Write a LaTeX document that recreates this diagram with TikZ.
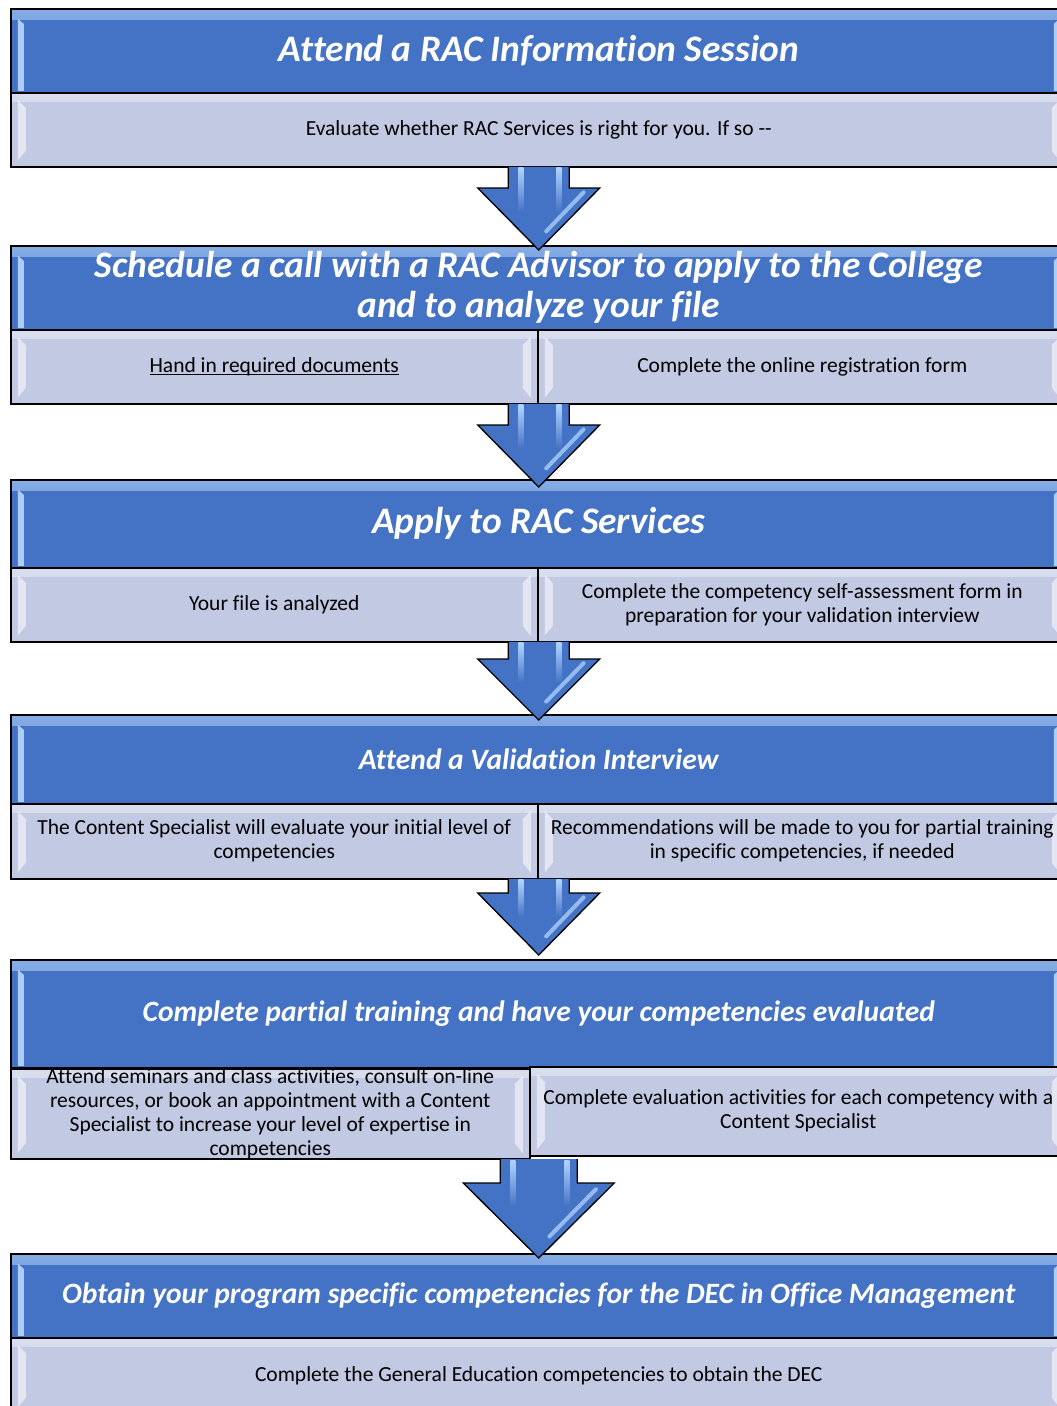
\documentclass[tikz,border=0pt]{standalone}
\usepackage{fontspec}
\setmainfont{Carlito}[Ligatures={TeX,NoCommon}]
\usetikzlibrary{calc}

\definecolor{hdrblue}{RGB}{68,114,196}
\definecolor{bodyblue}{RGB}{193,201,227}
\definecolor{hdrhi}{RGB}{190,222,255}
\definecolor{arrowhi}{RGB}{175,212,255}

\newcommand\ttlfont{\fontsize{37.4}{40}\selectfont\bfseries\itshape}
\newcommand\ttlsmall{\fontsize{29.5}{34}\selectfont\bfseries\itshape}
\newcommand\txtfont{\fontsize{21.5}{24}\selectfont}
% underline sitting close to the baseline
\newcommand\ulbox[1]{\setbox0\hbox{#1}\rlap{\rule[-2.6pt]{\wd0}{1.1pt}}\box0}

% glossy bevel strips on a header band (used inside a path picture)
\newcommand\glosshdr[1]{%
  \shade[top color=hdrhi!55!hdrblue, bottom color=hdrblue]
    ($(#1.north west)+(0,0)$) rectangle ($(#1.north east)+(0,11)$);
  \fill[hdrhi, opacity=.85] ($(#1.north west)+(7,10)$) -- ($(#1.north west)+(13,15)$)
    -- ($(#1.south west)+(13,-2)$) -- ($(#1.south west)+(7,-2)$) -- cycle;
  \fill[hdrhi, opacity=.85] ($(#1.north east)+(-7,10)$) -- ($(#1.north east)+(-13,15)$)
    -- ($(#1.south east)+(-13,-2)$) -- ($(#1.south east)+(-7,-2)$) -- cycle;
}
% glossy bevel strips on a body cell (used inside a path picture)
\newcommand\glossbody[1]{%
  \shade[top color=white!40!bodyblue, bottom color=bodyblue]
    ($(#1.north west)+(0,0)$) rectangle ($(#1.north east)+(0,9)$);
  \fill[white, opacity=.55] ($(#1.north west)+(7,7)$) -- ($(#1.north west)+(15,15)$)
    -- ($(#1.south west)+(15,-16)$) -- ($(#1.south west)+(7,-6)$) -- cycle;
  \fill[white, opacity=.55] ($(#1.north east)+(-7,7)$) -- ($(#1.north east)+(-15,15)$)
    -- ($(#1.south east)+(-15,-16)$) -- ($(#1.south east)+(-7,-6)$) -- cycle;
}

\tikzset{
  box/.style={draw=black, line width=1.5pt, anchor=north west, inner sep=0pt, align=center},
  hdr/.style={box, fill=hdrblue, text=white, font=\ttlfont, minimum width=1056pt,
    path picture={\glosshdr{path picture bounding box}}},
  hdrsmall/.style={hdr, font=\ttlsmall},
  body/.style={box, fill=bodyblue, text=black, font=\txtfont,
    path picture={\glossbody{path picture bounding box}}},
  arrowline/.style={draw=black, line width=1.3pt, line join=miter},
}

% block arrow: #1 source cell, #2 target header, #3 tip depth below target top,
% #4 head height, #5 shaft half width, #6 head half width
\newcommand\blockarrow[6]{%
  \path let \p1=(#1.south), \p2=(#2.north), \p3=(\x2,\y2-#3pt), \p4=(\x3,\y3+#4pt) in
    coordinate (ar-sl) at (\x2-#5pt,\y1+0.7pt)
    coordinate (ar-sr) at (\x2+#5pt,\y1+0.7pt)
    coordinate (ar-nl) at (\x2-#5pt,\y4)
    coordinate (ar-nr) at (\x2+#5pt,\y4)
    coordinate (ar-hl) at (\x2-#6pt,\y4)
    coordinate (ar-hr) at (\x2+#6pt,\y4)
    coordinate (ar-tip) at (\p3);
  \fill[hdrblue] (ar-sl) -- (ar-nl) -- (ar-hl) -- (ar-tip) -- (ar-hr) -- (ar-nr) -- (ar-sr) -- cycle;
  \shade[top color=arrowhi, bottom color=hdrblue] ($(ar-sl)+(10,1)$) rectangle ($(ar-nl)+(15,24)$);
  \shade[top color=arrowhi, bottom color=hdrblue] ($(ar-sr)+(-13,1)$) rectangle ($(ar-nr)+(-8,24)$);
  \draw[arrowhi, line width=4pt, line cap=round, opacity=.75]
    ($(ar-hr)!0.15!(ar-tip)+(-7,-5)$) -- ($(ar-hr)!0.78!(ar-tip)+(-6,-5)$);
  \draw[arrowline] (ar-sl) -- (ar-nl) -- (ar-hl) -- (ar-tip) -- (ar-hr) -- (ar-nr) -- (ar-sr);
}

\begin{document}
\begin{tikzpicture}[x=1pt,y=-1pt]
\useasboundingbox (0,0) rectangle (1057,1406);
\clip (0,0) rectangle (1057,1406);
\fill[white] (0,0) rectangle (1057,1406);

% step 1
\node[hdr, minimum height=84pt] (h1) at (10,8) {Attend a RAC Information Session};
\node[body, minimum width=1056pt, minimum height=74pt] (b1) at (10,92)
  {Evaluate whether RAC Services is right for you. If so {-}{-}};

% step 2
\node[hdr, minimum height=84pt] (h2) at (10,245)
  {Schedule a call with a RAC Advisor to apply to the College\\and to analyze your file};
\node[body, minimum width=527pt, minimum height=74pt] (b2l) at (10,329)
  {\ulbox{Hand in required documents}};
\node[body, minimum width=529pt, minimum height=74pt] (b2r) at (537,329)
  {Complete the online registration form};

% step 3
\node[hdr, minimum height=88pt] (h3) at (10,479) {Apply to RAC Services};
\node[body, minimum width=527pt, minimum height=74pt] (b3l) at (10,567)
  {Your file is analyzed};
\node[body, minimum width=529pt, minimum height=74pt] (b3r) at (537,567)
  {Complete the competency self-assessment form in\\preparation for your validation interview};

% step 4
\node[hdrsmall, minimum height=89pt] (h4) at (10,714) {Attend a Validation Interview};
\node[body, minimum width=527pt, minimum height=75pt] (b4l) at (10,803)
  {The Content Specialist will evaluate your initial level of\\competencies};
\node[body, minimum width=529pt, minimum height=75pt] (b4r) at (537,803)
  {Recommendations will be made to you for partial training\\in specific competencies, if needed};

% step 5
\node[hdrsmall, minimum height=108pt] (h5) at (10,959)
  {Complete partial training and have your competencies evaluated};
\node[body, minimum width=519pt, minimum height=89pt] (b5l) at (10,1068)
  {Attend seminars and class activities, consult on-line\\resources, or book an appointment with a Content\\Specialist to increase your level of expertise in\\competencies};
\node[body, minimum width=537pt, minimum height=89pt] (b5r) at (529,1066)
  {Complete evaluation activities for each competency with a\\Content Specialist};

% step 6
\node[hdrsmall, minimum height=84pt] (h6) at (10,1253)
  {Obtain your program specific competencies for the DEC in Office Management};
\node[body, minimum width=1056pt, minimum height=76pt] (b6) at (10,1337)
  {Complete the General Education competencies to obtain the DEC};

% arrows between steps
\blockarrow{b1}{h2}{5}{62}{30.5}{61}
\blockarrow{b2l}{h3}{8}{62}{30.5}{61}
\blockarrow{b3l}{h4}{6}{61}{30.5}{61}
\blockarrow{b4l}{h5}{-4}{62}{30.5}{61}
\blockarrow{b5l}{h6}{5}{75}{38.5}{75.5}
\end{tikzpicture}
\end{document}
